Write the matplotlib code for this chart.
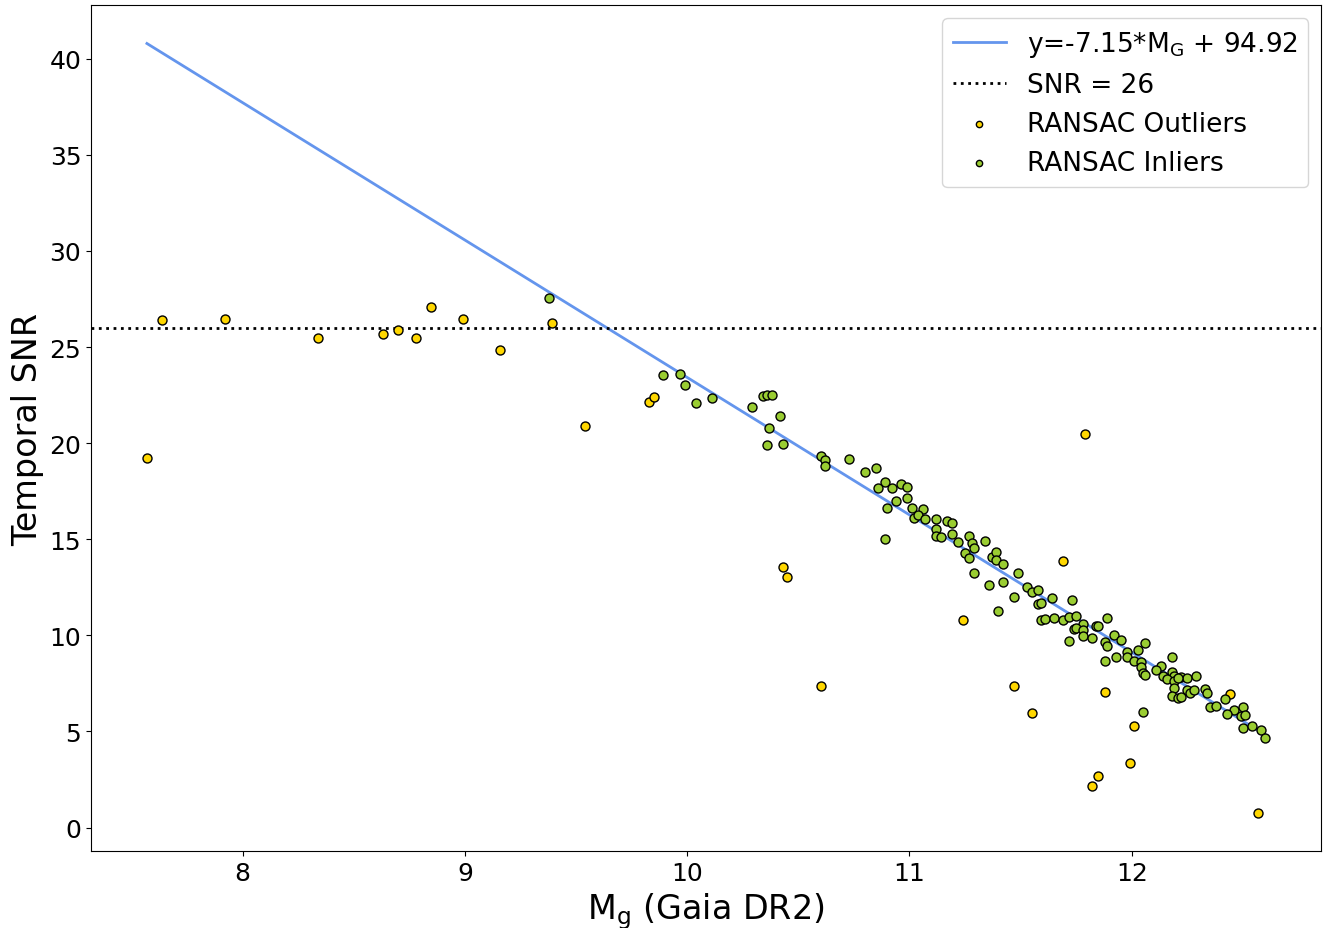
import matplotlib
matplotlib.use("Agg")
import matplotlib.pyplot as plt
import numpy as np

# RANSAC outliers (yellow)
out_x = [7.57, 7.64, 7.92, 8.34, 8.63, 8.70, 8.78, 8.85, 8.99, 9.16, 9.39, 9.54,
         9.83, 9.85, 10.43, 10.45, 10.60, 11.24, 11.47, 11.55, 11.69, 11.79,
         11.85, 11.82, 11.88, 11.99, 12.01, 12.44, 12.57]
out_y = [19.22, 26.40, 26.45, 25.45, 25.66, 25.90, 25.45, 27.06, 26.44, 24.83, 26.23, 20.88,
         22.13, 22.39, 13.56, 13.04, 7.38, 10.80, 7.38, 5.97, 13.87, 20.47,
         2.70, 2.18, 7.06, 3.38, 5.30, 6.96, 0.78]

# RANSAC inliers (green)
in_x = [9.38, 9.89, 9.97, 9.99, 10.04, 10.11, 10.29, 10.34, 10.36, 10.38, 10.42, 10.37,
        10.36, 10.43, 10.60, 10.62, 10.62, 10.73, 10.80, 10.85, 10.89, 10.86, 10.92,
        10.96, 10.99, 10.94, 10.99, 10.90, 10.89, 11.01, 11.06, 11.02, 11.04, 11.07,
        11.12, 11.17, 11.19, 11.12, 11.12, 11.14, 11.19, 11.22, 11.27, 11.28, 11.29,
        11.34, 11.25, 11.27, 11.37, 11.39, 11.39, 11.42, 11.29, 11.49, 11.36, 11.42,
        11.53, 11.55, 11.58, 11.47, 11.40, 11.58, 11.59, 11.59, 11.61, 11.64, 11.73,
        11.65, 11.69, 11.72, 11.75, 11.78, 11.74, 11.75, 11.78, 11.84, 11.85, 11.89,
        11.72, 11.78, 11.82, 11.92, 11.95, 11.88, 11.89, 11.93, 11.88, 11.98, 11.98,
        12.01, 12.03, 12.06, 12.04, 12.04, 12.05, 12.06, 12.13, 12.11, 12.18, 12.18,
        12.14, 12.19, 12.22, 12.25, 12.29, 12.05, 12.16, 12.19, 12.21, 12.19, 12.18,
        12.21, 12.22, 12.25, 12.26, 12.28, 12.33, 12.34, 12.35, 12.38, 12.42, 12.46,
        12.43, 12.50, 12.49, 12.51, 12.50, 12.54, 12.58, 12.60]
in_y = [27.53, 23.53, 23.62, 23.01, 22.08, 22.34, 21.87, 22.46, 22.49, 22.51, 21.39, 20.78,
        19.91, 19.95, 19.31, 19.12, 18.79, 19.17, 18.51, 18.72, 18.00, 17.68, 17.68,
        17.87, 17.73, 16.97, 17.16, 16.61, 15.01, 16.61, 16.55, 16.11, 16.26, 16.03,
        16.03, 15.96, 15.84, 15.53, 15.15, 15.13, 15.27, 14.88, 15.18, 14.81, 14.56,
        14.91, 14.29, 14.01, 14.06, 14.35, 13.94, 13.71, 13.23, 13.23, 12.60, 12.75,
        12.52, 12.24, 12.38, 12.02, 11.26, 11.64, 11.69, 10.79, 10.86, 11.95, 11.83,
        10.89, 10.79, 10.94, 11.03, 10.60, 10.32, 10.37, 10.29, 10.46, 10.51, 10.89,
        9.73, 9.97, 9.85, 10.01, 9.78, 9.66, 9.42, 8.85, 8.66, 9.13, 8.85,
        8.64, 9.26, 9.59, 8.61, 8.36, 8.05, 7.95, 8.42, 8.19, 8.88, 8.10,
        7.91, 7.91, 7.83, 7.78, 7.91, 5.99, 7.72, 7.64, 7.78, 7.27, 6.84,
        6.75, 6.77, 7.13, 7.00, 7.15, 7.20, 7.00, 6.29, 6.34, 6.67, 6.11,
        5.89, 6.29, 5.80, 5.83, 5.19, 5.28, 5.06, 4.66]

slope = -7.15
intercept = 94.92
snr_cut = 26

fig = plt.figure(figsize=(13.23, 9.29), dpi=100)
ax = fig.add_axes([0.0688, 0.0829, 0.9297, 0.9106])

all_x = np.array(out_x + in_x)
lx = np.array([all_x.min(), all_x.max()])
ax.plot(lx, slope * lx + intercept, color='cornflowerblue', lw=2,
        label=r'y=-7.15*M$_\mathrm{G}$ + 94.92')
ax.axhline(snr_cut, color='black', ls=':', lw=2, label='SNR = 26')
ax.scatter(out_x, out_y, s=42, c='gold', edgecolors='black', linewidths=1,
           label='RANSAC Outliers', zorder=3)
ax.scatter(in_x, in_y, s=42, c='yellowgreen', edgecolors='black', linewidths=1,
           label='RANSAC Inliers', zorder=3)

ax.set_xlabel(r'M$_\mathrm{g}$ (Gaia DR2)', fontsize=24)
ax.set_ylabel('Temporal SNR', fontsize=24)
ax.tick_params(labelsize=18)
ax.set_xticks([8, 9, 10, 11, 12])
ax.legend(fontsize=19, loc='upper right', markerscale=0.7)

fig.savefig('out.png', dpi=100)
